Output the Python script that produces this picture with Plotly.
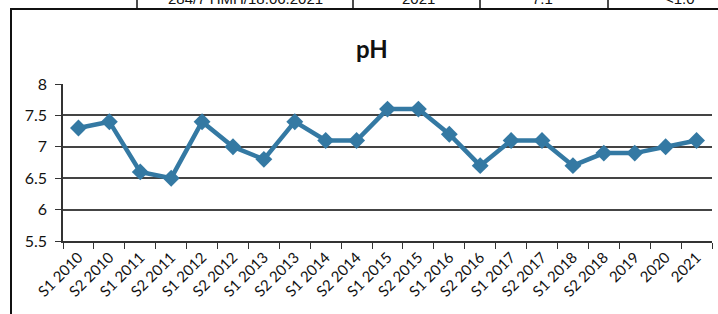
import plotly.graph_objects as go

categories = ["S1 2010", "S2 2010", "S1 2011", "S2 2011", "S1 2012", "S2 2012",
              "S1 2013", "S2 2013", "S1 2014", "S2 2014", "S1 2015", "S2 2015",
              "S1 2016", "S2 2016", "S1 2017", "S2 2017", "S1 2018", "S2 2018",
              "2019", "2020", "2021"]
ph_values = [7.3, 7.4, 6.6, 6.5, 7.4, 7.0, 6.8, 7.4, 7.1, 7.1, 7.6, 7.6,
             7.2, 6.7, 7.1, 7.1, 6.7, 6.9, 6.9, 7.0, 7.1]
y_ticks = [5.5, 6, 6.5, 7, 7.5, 8]
y_tick_labels = ["5.5", "6", "6.5", "7", "7.5", "8"]
table_cells = ["284/7 ΠΜΠ/18.06.2021", "2021", "7.1", "<1.0"]

W, H = 718, 314
L, R, T, B = 63, 6, 84, 73
PW = W - L - R
PH = H - T - B

def px(x):
    return (x - L) / PW

def py(y):
    return (H - B - y) / PH

fig = go.Figure()
fig.add_trace(go.Scatter(
    x=categories, y=ph_values, mode="lines+markers",
    line=dict(color="#3479a3", width=4.5),
    marker=dict(symbol="diamond", size=13, color="#3479a3"),
    showlegend=False, cliponaxis=False,
))

shapes = []
# chart border box
shapes.append(dict(type="rect", xref="paper", yref="paper",
                   x0=px(11), x1=px(730), y0=py(330), y1=py(9),
                   line=dict(color="#111", width=2), layer="below"))
# table row lines
shapes.append(dict(type="line", xref="paper", yref="paper",
                   x0=px(11), x1=px(718), y0=py(9), y1=py(9),
                   line=dict(color="#111", width=2)))
for xv in [137, 353, 480, 608]:
    shapes.append(dict(type="line", xref="paper", yref="paper",
                       x0=px(xv), x1=px(xv), y0=py(9), y1=py(-5),
                       line=dict(color="#111", width=1.5)))

annotations = []
for txt, cx in zip(table_cells, [245, 418, 542, 680]):
    annotations.append(dict(text=txt, xref="paper", yref="paper",
                            x=px(cx), y=py(9), xanchor="center", yanchor="bottom",
                            showarrow=False,
                            font=dict(family="Liberation Sans, Arial", size=15, color="#111")))
annotations.append(dict(text="<b>pH</b>", xref="paper", yref="paper",
                        x=px(372), y=py(48), xanchor="center", yanchor="middle",
                        showarrow=False,
                        font=dict(family="Lato, Open Sans, sans-serif", size=24, color="#111")))

fig.update_layout(
    width=W, height=H, autosize=False,
    margin=dict(l=L, r=R, t=T, b=B, pad=0),
    paper_bgcolor="white", plot_bgcolor="white",
    shapes=shapes, annotations=annotations,
    xaxis=dict(
        type="category", tickangle=-45,
        tickfont=dict(family="Lato, Open Sans, sans-serif", size=15, color="#111"),
        showline=True, linecolor="#333", linewidth=1.5,
        ticks="outside", ticklen=6, tickcolor="#333", tickson="boundaries",
        showgrid=False, range=[-0.5, len(categories) - 0.5],
    ),
    yaxis=dict(
        range=[5.5, 8], tickvals=y_ticks, ticktext=y_tick_labels,
        tickfont=dict(family="Lato, Open Sans, sans-serif", size=16, color="#111"),
        showline=True, linecolor="#333", linewidth=1.5,
        ticks="outside", ticklen=6, tickcolor="#333", ticklabelstandoff=5,
        showgrid=True, gridcolor="#444", gridwidth=1.5,
        zeroline=False,
    ),
)

fig.write_html("out.html", config={"displayModeBar": False},
               post_script="document.body.style.margin='0';document.body.style.overflow='hidden';")
